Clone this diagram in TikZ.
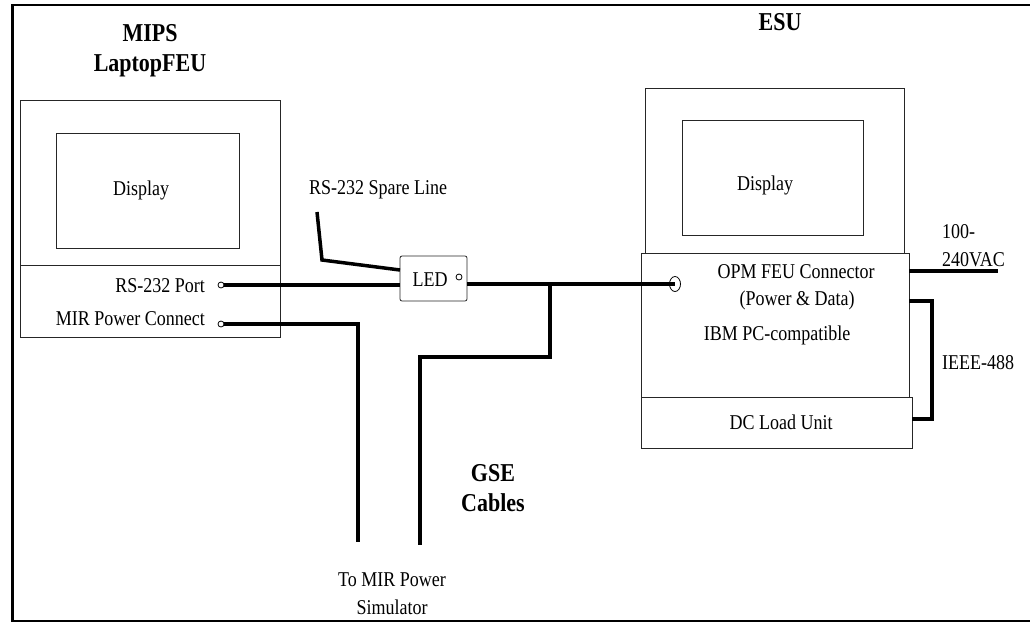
\documentclass[tikz,border=0pt]{standalone}
\usepackage{fontspec}
\usepackage{graphicx}
\setmainfont{Liberation Serif}
\usetikzlibrary{calc,shapes.geometric}
\newcommand{\vst}[1]{\scalebox{1}[1.17]{#1}}
\tikzset{
  box/.style={draw=black!85, line width=0.8pt, inner sep=0pt, outer sep=0pt, anchor=north west},
  cable/.style={draw=black, line width=3.5pt, line cap=butt, line join=miter},
  lbl/.style={font=\fontsize{18}{20}\selectfont, inner sep=0pt},
  title/.style={font=\fontsize{22}{24}\selectfont\bfseries, inner sep=0pt},
  port/.style={draw=black, line width=0.8pt, fill=white, circle, inner sep=0pt, minimum size=6pt},
}
\begin{document}
\begin{tikzpicture}[x=1pt,y=-1pt]
\useasboundingbox (0,0) rectangle (1030,624);
% outer frame
\draw[line width=3pt] (12,5) -- (12,622);
\draw[line width=2pt] (11,5) -- (1030,5);
\draw[line width=1.5pt] (11,621) -- (1030,621);

% MIPS laptop
\node[title] (mipsA) at (150,33) {\vst{MIPS}};
\node[title] (mipsB) at (150,66) {\vst{LaptopFEU}};
\node[box, minimum width=260pt, minimum height=165pt] (laptop) at (20,100) {};
\node[box, minimum width=260pt, minimum height=72pt] (lapbase) at (20,265) {};
\node[box, minimum width=183pt, minimum height=115pt] (ldisp) at (56,133) {};
\node[lbl] (ldisptxt) at (141,190) {\vst{Display}};
\node[lbl, anchor=east] (rstxt) at (205,286) {\vst{RS-232 Port}};
\node[lbl, anchor=east] (mirtxt) at (205,319) {\vst{MIR Power Connect}};

% ESU
\node[title] (esu) at (780,22) {\vst{ESU}};
\node[box, minimum width=259pt, minimum height=165pt] (esutop) at (645,88) {};
\node[box, minimum width=268pt, minimum height=144pt] (esumain) at (641,253) {};
\node[box, minimum width=271pt, minimum height=51pt] (dcload) at (641,397) {};
\node[box, minimum width=181pt, minimum height=115pt] (edisp) at (682,120) {};
\node[lbl] (edisptxt) at (765,185) {\vst{Display}};
\node[lbl] (opmA) at (796,272) {\vst{OPM FEU Connector}};
\node[lbl] (opmB) at (797,300) {\vst{(Power \& Data)}};
\node[lbl] (ibm) at (777,335) {\vst{IBM PC-compatible}};
\node[lbl] (dctxt) at (781,422) {\vst{DC Load Unit}};
\node[lbl, anchor=west] (vacA) at (942,232) {\vst{100-}};
\node[lbl, anchor=west] (vacB) at (942,260) {\vst{240VAC}};
\node[lbl, anchor=west] (ieee) at (942,363) {\vst{IEEE-488}};

% LED box
\node[box, minimum width=67pt, minimum height=45pt, rounded corners=2pt] (led) at (400,256) {};
\node[lbl] (ledtxt) at (430,280) {\vst{LED}};
\node[lbl] (sparetxt) at (378,190) {\vst{RS-232 Spare Line}};
\node[title] (gseA) at (493,473) {\vst{GSE}};
\node[title] (gseB) at (493,503) {\vst{Cables}};
\node[lbl] (simA) at (392,580) {\vst{To MIR Power}};
\node[lbl] (simB) at (392,607) {\vst{Simulator}};

% connection points
\coordinate (rsc) at (221,285);
\coordinate (mirc) at (221,324);
\coordinate (opmc) at (675,284);
\coordinate (spare) at (317,212);
\coordinate (junc) at (550,284);
\coordinate (gseend) at (420,545);
\coordinate (mirend) at (358,542);
\coordinate (vacend) at (998,271);

% cables
\draw[cable] (rsc) -- (led.west |- rsc);
\draw[cable] (spare) -- (322,260) -- ([yshift=-14pt]led.north west);
\draw[cable] ([yshift=-5.5pt]led.east) -- (opmc);
\draw[cable] (junc) -- (550,357) -- (gseend |- 0,357) -- (gseend);
\draw[cable] (mirc) -- (mirend |- mirc) -- (mirend);
\draw[cable] (esumain.east |- vacend) -- (vacend);
\draw[cable] (esumain.east |- 0,301) -- (932,301) -- (932,419) -- (dcload.east |- 0,419);

% ports
\node[port] (rsport) at (rsc) {};
\node[port] (mirport) at (mirc) {};
\node[port] (ledport) at (459,277) {};
\node[port, ellipse, minimum width=11pt, minimum height=15pt, fill=none] (opmport) at (opmc) {};
\end{tikzpicture}
\end{document}
